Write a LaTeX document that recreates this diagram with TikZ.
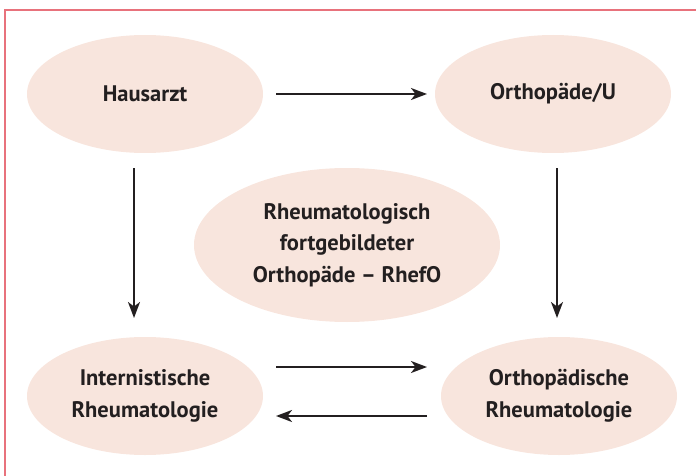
\documentclass[tikz,border=0pt]{standalone}
\usepackage{fontspec}
\setmainfont{PT Sans}
\usetikzlibrary{arrows.meta,shapes.geometric}
\definecolor{ellfill}{HTML}{F8E5DD}
\definecolor{frame}{HTML}{E8727C}
\definecolor{ink}{HTML}{231F20}
\begin{document}
\begin{tikzpicture}[x=1pt,y=-1pt,
  ell/.style={ellipse, fill=ellfill, draw=none, minimum width=236pt, minimum height=118pt, inner sep=0pt,
    align=center, font=\fontsize{22.5}{31.5}\selectfont\bfseries, text=ink},
  arr/.style={draw=ink, line width=2pt, -{Stealth[length=16pt,width=12pt,inset=4.5pt]}}]
\useasboundingbox (0,0) rectangle (696,476);
\draw[frame, line width=1.5pt] (5,476) -- (5,10) -- (696,10);
\node[ell] (haus) at (145,94) {Hausarzt};
\node[ell] (orth) at (553,94) {Orthopäde/U};
\node[ell, minimum width=306pt, minimum height=154pt] (rhef) at (347,245) {Rheumatologisch\\fortgebildeter\\Orthopäde – RhefO};
\node[ell] (intr) at (145,396) {Internistische\\Rheumatologie};
\node[ell] (orrh) at (559,396) {Orthopädische\\Rheumatologie};
\coordinate (a1s) at (276,94); \coordinate (a1e) at (427,94);
\coordinate (a2s) at (134,168); \coordinate (a2e) at (134,318);
\coordinate (a3s) at (557,168); \coordinate (a3e) at (557,318);
\coordinate (a4s) at (276,367); \coordinate (a4e) at (427,367);
\coordinate (a5s) at (427,416); \coordinate (a5e) at (276,416);
\draw[arr] (a1s) -- (a1e);
\draw[arr] (a2s) -- (a2e);
\draw[arr] (a3s) -- (a3e);
\draw[arr] (a4s) -- (a4e);
\draw[arr] (a5s) -- (a5e);
\end{tikzpicture}
\end{document}
